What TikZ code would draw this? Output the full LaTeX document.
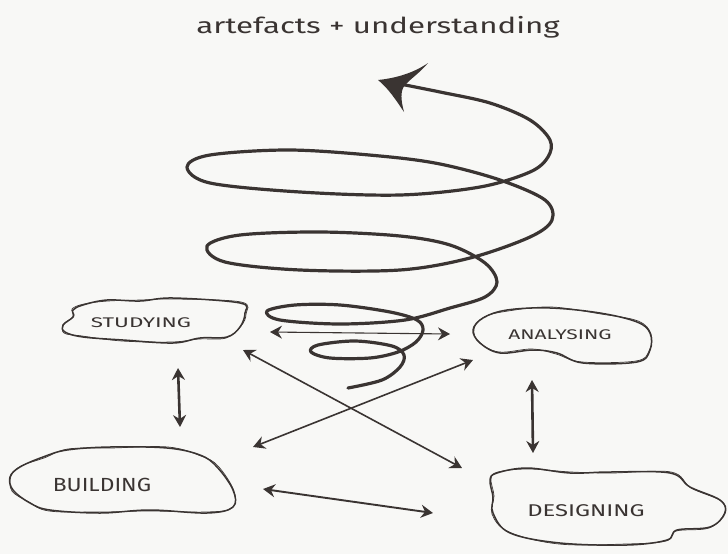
\documentclass[tikz,border=0pt]{standalone}
\usepackage{fontspec}
\usepackage{graphicx}
\setmainfont{Fira Sans}
\usetikzlibrary{arrows.meta}
\definecolor{ink}{RGB}{58,52,50}
\definecolor{paper}{RGB}{248,248,246}
\tikzset{
  cloudline/.style={draw=ink, line width=1.5pt, line join=round},
  cloudsketch/.style={draw=ink, line width=0.7pt, line join=round},
  label/.style={text=ink, inner sep=0pt},
  duo/.style={draw=ink, line cap=round, {Stealth[length=12pt,width=13pt,inset=4pt]}-{Stealth[length=12pt,width=13pt,inset=4pt]}},
  spiral/.style={draw=ink, line width=3.2pt, line cap=round, line join=round}
}
\begin{document}
\begin{tikzpicture}[x=1pt,y=-1pt]
\fill[paper] (0,0) rectangle (728,554);
\useasboundingbox (0,0) rectangle (728,554);

% title
\node[label, anchor=base, font=\fontsize{22}{26}\selectfont] (title) at (378,33) {\scalebox{1.42}[1]{artefacts + understanding}};

% spiral
\draw[spiral] plot[smooth, tension=0.55] coordinates {
(348,388) (382,380) (400,367) (404,355) (392,346) (355,341) (318,345) (311,352) (330,358) (370,358) (398,352) (416,342) (423,330) (417,320) (390,312) (340,305) (295,305) (267,311) (280,320) (340,324) (405,320) (450,308) (485,297) (497,282) (485,263) (450,245) (400,236) (320,232) (240,235) (207,246) (225,262) (300,270) (400,270) (470,258) (530,237) (552,220) (545,200) (500,180) (440,164) (380,156) (290,150) (210,155) (187,167) (210,183) (300,192) (400,195) (480,187) (530,172) (548,157) (550,140) (530,120) (490,103) (440,92) (400,84)};
\fill[ink] (378,80) .. controls (398,78) and (415,72) .. (428,63) .. controls (418,75) and (408,80) .. (403,88) .. controls (400,95) and (402,104) .. (404,112) .. controls (396,100) and (388,88) .. (378,80) -- cycle;

% clouds
\draw[cloudline] plot[smooth cycle, tension=0.6] coordinates {
(83,305) (107,300) (140,301) (173,298) (240,303) (245,313) (240,327) (227,337) (200,338) (173,343) (123,340) (83,337) (65,332) (63,325) (73,317) (73,310)};
\draw[cloudsketch] plot[smooth cycle, tension=0.6] coordinates {
(84,304) (108,301) (141,300) (174,299) (241,302) (246,314) (241,326) (226,338) (199,339) (172,342) (122,341) (82,336) (64,333) (64,324) (74,316) (72,309)};

\draw[cloudline] plot[smooth cycle, tension=0.6] coordinates {
(473,330) (483,318) (507,310) (550,308) (600,313) (637,322) (650,333) (650,350) (637,362) (583,363) (557,353) (533,350) (500,353) (480,343)};
\draw[cloudsketch] plot[smooth cycle, tension=0.6] coordinates {
(474,329) (484,317) (508,311) (551,307) (601,314) (638,321) (651,334) (649,351) (636,361) (582,362) (556,354) (532,349) (499,352) (479,342)};

\draw[cloudline] plot[smooth cycle, tension=0.6] coordinates {
(10,477) (20,467) (43,457) (67,450) (110,447) (167,448) (200,455) (217,467) (233,490) (233,507) (207,513) (150,510) (100,513) (50,510) (30,503) (13,490)};
\draw[cloudsketch] plot[smooth cycle, tension=0.6] coordinates {
(11,476) (21,466) (44,458) (68,449) (111,448) (168,447) (201,456) (218,466) (234,491) (232,508) (206,512) (149,511) (99,512) (49,511) (29,502) (12,491)};

\draw[cloudline] plot[smooth cycle, tension=0.6] coordinates {
(490,480) (497,473) (527,468) (570,473) (610,472) (670,473) (690,487) (720,500) (725,513) (710,527) (677,530) (667,540) (627,545) (560,543) (510,533) (493,513) (493,497)};
\draw[cloudsketch] plot[smooth cycle, tension=0.6] coordinates {
(491,479) (498,472) (528,469) (571,472) (611,473) (671,472) (691,488) (721,501) (724,514) (709,528) (676,531) (666,541) (626,544) (559,544) (509,532) (492,514) (494,496)};

% labels
\node[label, font=\fontsize{14}{16}\selectfont] (stud) at (141,323) {\scalebox{1.6}[1]{STUDYING}};
\node[label, font=\fontsize{14}{16}\selectfont] (anal) at (560,335) {\scalebox{1.5}[1]{ANALYSING}};
\node[label, font=\fontsize{19}{22}\selectfont] (build) at (102,485) {\scalebox{1.2}[1]{BUILDING}};
\node[label, font=\fontsize{17}{20}\selectfont] (design) at (586,511) {\scalebox{1.4}[1]{DESIGNING}};

% connector end points
\coordinate (sa1) at (270,332);
\coordinate (sa2) at (450,334);
\coordinate (sb1) at (178,368);
\coordinate (sb2) at (180,427);
\coordinate (ad1) at (532,380);
\coordinate (ad2) at (533,453);
\coordinate (bd1) at (263,489);
\coordinate (bd2) at (433,513);
\coordinate (sd1) at (243,350);
\coordinate (sd2) at (462,468);
\coordinate (ba1) at (253,447);
\coordinate (ba2) at (473,360);

\draw[duo, line width=1.1pt] (sa1) -- (sa2);
\draw[duo, line width=2.6pt] (sb1) -- (sb2);
\draw[duo, line width=2.6pt] (ad1) -- (ad2);
\draw[duo, line width=1.9pt] (bd1) -- (bd2);
\draw[duo, line width=1.6pt] (sd1) -- (sd2);
\draw[duo, line width=1.6pt] (ba1) -- (ba2);
\end{tikzpicture}
\end{document}
